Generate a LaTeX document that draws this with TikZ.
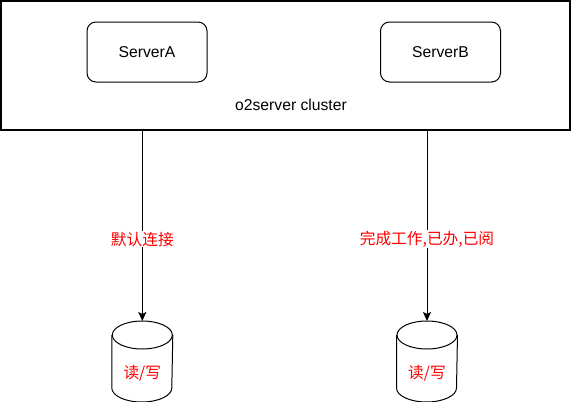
\documentclass[tikz,border=0pt]{standalone}
\usepackage{fontspec}
\setmainfont{Liberation Sans}
\newfontfamily\cjk{Noto Sans CJK SC}
\usetikzlibrary{positioning, arrows.meta}

\begin{document}
\begin{tikzpicture}[x=1pt, y=-1pt, line width=1pt, font=\fontsize{15.7}{19}\selectfont,
    server/.style = {draw, rounded corners=9pt, minimum width=120pt, minimum height=60pt},
    db/.style = {minimum width=60pt, minimum height=80pt, inner sep=0pt, text height=36pt, text depth=2pt, text=red, font=\cjk\fontsize{15.7}{19}\selectfont},
    note/.style = {fill=white, text=red, inner sep=1pt, font=\cjk\fontsize{15.7}{19}\selectfont}]
    \useasboundingbox (0,0) rectangle (571,402);
    % Nodes
    \node[draw, line width=1.3pt, minimum width=569pt, minimum height=129pt] (cluster) at (285.5,65.5) {};
    \node (clusterlabel) at (291,105) {o2server cluster};
    \node[server] (srvA) at (147,52) {ServerA};
    \node[server] (srvB) at (440.5,52) {ServerB};
    \node[db] (dbA) at (142.3,361.5) {读/写};
    \node[db] (dbB) at (427,361.5) {读/写};

    % Cylinders
    \draw ([yshift=-14pt]dbA.north) ellipse [x radius=30pt, y radius=14pt];
    \draw ([yshift=-14pt]dbA.north west) -- ([yshift=14pt]dbA.south west) arc [start angle=180, end angle=360, x radius=30pt, y radius=14pt] -- ([yshift=-14pt]dbA.north east);
    \draw ([yshift=-14pt]dbB.north) ellipse [x radius=30pt, y radius=14pt];
    \draw ([yshift=-14pt]dbB.north west) -- ([yshift=14pt]dbB.south west) arc [start angle=180, end angle=360, x radius=30pt, y radius=14pt] -- ([yshift=-14pt]dbB.north east);

    % Lines
    \draw[-{Stealth[length=9pt, width=8pt, inset=2pt]}] (cluster.south -| dbA.north) -- node[note, pos=0.57] {默认连接} (dbA.north);
    \draw[-{Stealth[length=9pt, width=8pt, inset=2pt]}] (cluster.south -| dbB.north) -- node[note, pos=0.57] {完成工作,已办,已阅} (dbB.north);
\end{tikzpicture}
\end{document}
